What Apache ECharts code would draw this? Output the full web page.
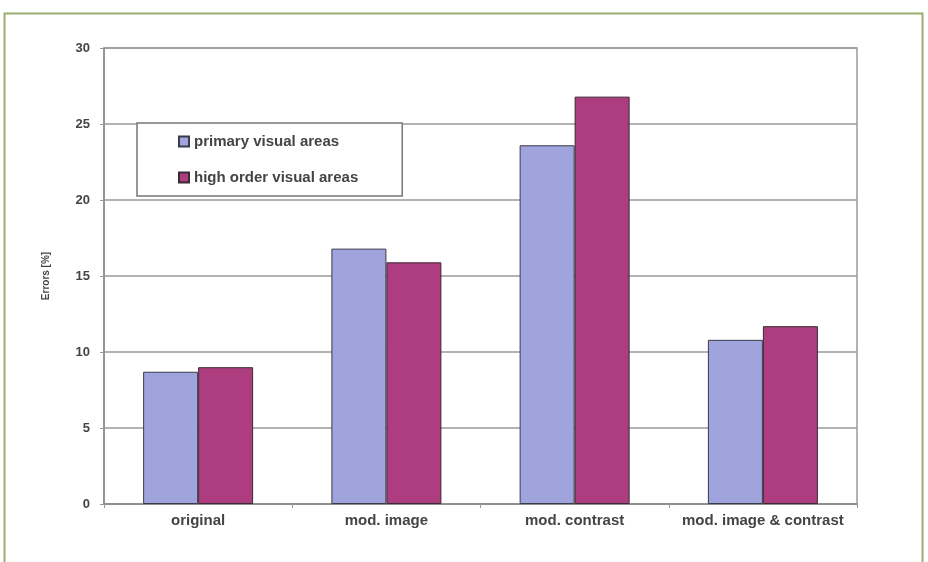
<!DOCTYPE html>
<html><head><meta charset="utf-8">
<script src="https://cdn.jsdelivr.net/npm/echarts@6/dist/echarts.min.js"></script>
<style>html,body{margin:0;padding:0;background:#fff}#c{width:928px;height:562px}</style>
</head><body><div id="c"></div>
<script>
const categories = ['original', 'mod. image', 'mod. contrast', 'mod. image & contrast'];
const primaryVisual = [8.7, 16.8, 23.6, 10.8];
const highOrderVisual = [9.0, 15.9, 26.8, 11.7];
const seriesNames = ['primary visual areas', 'high order visual areas'];
const yTicks = [0, 5, 10, 15, 20, 25, 30];

const chart = echarts.init(document.getElementById('c'));
const font = 'Liberation Sans, Arial, sans-serif';
chart.setOption({
  backgroundColor: '#fff',
  animation: false,
  graphic: [{
    type: 'rect', shape: {x: 4.5, y: 13.5, width: 918, height: 620},
    style: {fill: 'none', stroke: '#9bad6e', lineWidth: 2}, z: -1
  }, {
    type: 'rect', shape: {x: 104, y: 48, width: 753, height: 456},
    style: {fill: 'none', stroke: '#9a9a9a', lineWidth: 1.5}, z: 0
  }],
  grid: {left: 104, right: 71, top: 48, bottom: 58, containLabel: false},
  legend: {
    orient: 'vertical', left: 137, top: 123,
    padding: [11, 44, 11, 41], itemGap: 21,
    backgroundColor: '#fff', borderColor: '#777', borderWidth: 1.5,
    itemWidth: 10, itemHeight: 10, icon: 'rect',
    textStyle: {fontFamily: font, fontSize: 15, fontWeight: 'bold', color: '#444'},
    data: seriesNames
  },
  xAxis: {
    type: 'category', data: categories,
    axisLine: {lineStyle: {color: '#8a8a8a', width: 1.5}},
    axisTick: {show: true, length: 4, lineStyle: {color: '#999'}},
    axisLabel: {interval: 0, fontFamily: font, fontSize: 15, fontWeight: 'bold', color: '#444', margin: 9}
  },
  yAxis: {
    type: 'value', min: 0, max: 30, interval: 5,
    name: 'Errors [%]', nameLocation: 'middle', nameGap: 53,
    nameTextStyle: {fontFamily: font, fontSize: 10, fontWeight: 'bold', color: '#444'},
    axisLine: {show: true, lineStyle: {color: '#8a8a8a', width: 1.5}},
    axisTick: {show: true, length: 4, inside: false, lineStyle: {color: '#999'}},
    axisLabel: {fontFamily: font, fontSize: 13, fontWeight: 'bold', color: '#444', margin: 14,
      formatter: v => yTicks.includes(v) ? String(v) : ''},
    splitLine: {lineStyle: {color: '#9a9a9a', width: 1.5}}
  },
  series: [{
    name: seriesNames[0], type: 'bar', data: primaryVisual,
    barWidth: 55, barGap: '0%', barCategoryGap: '41%',
    itemStyle: {color: '#a0a4dc', borderColor: '#3a3a4a', borderWidth: 1}
  }, {
    name: seriesNames[1], type: 'bar', data: highOrderVisual,
    barWidth: 55,
    itemStyle: {color: '#ad3d7e', borderColor: '#3a2a34', borderWidth: 1}
  }]
});
</script></body></html>
